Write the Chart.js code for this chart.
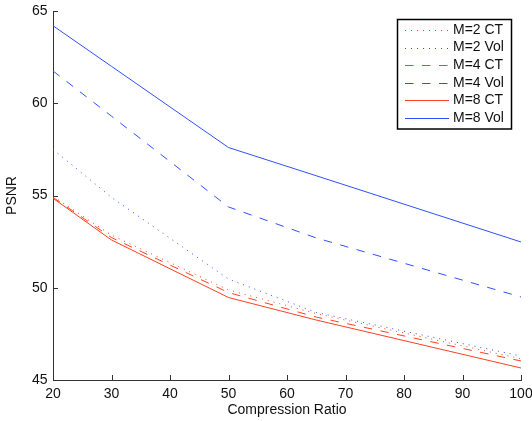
<!DOCTYPE html>
<html>
<head>
<meta charset="utf-8">
<script src="https://cdn.jsdelivr.net/npm/chart.js@4/dist/chart.umd.min.js"></script>
<style>
  html, body { margin: 0; padding: 0; background: #fff; }
  #wrap { width: 532px; height: 421px; position: relative; }
</style>
</head>
<body>
<div id="wrap"><canvas id="c" width="532" height="421"></canvas></div>
<script>
// ---- data ----
const ratios = [20, 30, 50, 65, 100];
const m2ct  = [54.95, 52.85, 49.88, 48.60, 46.15];
const m2vol = [57.50, 54.90, 50.47, 48.66, 46.30];
const m4ct  = [54.90, 52.72, 49.74, 48.41, 46.03];
const m4vol = [61.75, 59.30, 54.38, 52.70, 49.50];
const m8ct  = [54.85, 52.59, 49.47, 48.25, 45.65];
const m8vol = [64.20, 62.00, 57.60, 56.07, 52.48];
const seriesLabels = ['M=2 CT', 'M=2 Vol', 'M=4 CT', 'M=4 Vol', 'M=8 CT', 'M=8 Vol'];
const xTicks = [20, 30, 40, 50, 60, 70, 80, 90, 100];
const yTicks = [45, 50, 55, 60, 65];

const RED = 'rgb(255,64,32)';
const BLUE = 'rgb(48,80,255)';
const DOT = [1, 5];
const DASH = [8.5, 8.5];
const FONT = 'Liberation Sans, Arial, Helvetica, sans-serif';

function pts(ys) { return ratios.map((x, i) => ({ x: x, y: ys[i] })); }

const styles = [
  { c: RED, d: DOT }, { c: BLUE, d: DOT },
  { c: RED, d: DASH }, { c: BLUE, d: DASH },
  { c: RED, d: [] }, { c: BLUE, d: [] }
];
const allSeries = [m2ct, m2vol, m4ct, m4vol, m8ct, m8vol];

const datasets = allSeries.map((s, i) => ({
  label: seriesLabels[i],
  data: pts(s),
  borderColor: styles[i].c,
  borderDash: styles[i].d,
  borderWidth: 1,
  pointRadius: 0,
  tension: 0,
  fill: false
}));

const inwardTicks = {
  id: 'inwardTicks',
  afterDatasetsDraw(chart) {
    const ctx = chart.ctx;
    const xs = chart.scales.x, ys = chart.scales.y;
    const a = chart.chartArea;
    ctx.save();
    ctx.strokeStyle = '#333';
    ctx.lineWidth = 1;
    ctx.beginPath();
    xTicks.forEach(v => {
      const px = Math.round(xs.getPixelForValue(v)) + 0.5;
      ctx.moveTo(px, a.bottom); ctx.lineTo(px, a.bottom - 5);
    });
    yTicks.forEach(v => {
      const py = Math.round(ys.getPixelForValue(v)) + 0.5;
      ctx.moveTo(a.left, py); ctx.lineTo(a.left + 5, py);
    });
    ctx.stroke();
    ctx.restore();
  }
};

const boxLegend = {
  id: 'boxLegend',
  afterDraw(chart) {
    const ctx = chart.ctx;
    const bx = 397.5, by = 19.5, bw = 114, bh = 109.5;
    ctx.save();
    ctx.fillStyle = '#fff';
    ctx.fillRect(bx, by, bw, bh);
    ctx.strokeStyle = '#000';
    ctx.lineWidth = 1.5;
    ctx.strokeRect(bx, by, bw, bh);
    ctx.font = '14px ' + FONT;
    ctx.textBaseline = 'middle';
    ctx.textAlign = 'left';
    seriesLabels.forEach((lab, i) => {
      const y = 30 + i * 17.55;
      const yy = Math.round(y) + 0.5;
      ctx.strokeStyle = styles[i].c;
      ctx.lineWidth = 1;
      ctx.setLineDash(styles[i].d.slice());
      ctx.beginPath();
      ctx.moveTo(405, yy);
      ctx.lineTo(449, yy);
      ctx.stroke();
      ctx.setLineDash([]);
      ctx.fillStyle = '#111';
      ctx.fillText(lab, 453, y);
    });
    ctx.restore();
  }
};

new Chart(document.getElementById('c'), {
  type: 'line',
  data: { datasets: datasets },
  options: {
    responsive: false,
    animation: false,
    events: [],
    layout: { padding: { top: 11, right: 11, left: 0, bottom: 0 } },
    plugins: { legend: { display: false }, tooltip: { enabled: false } },
    scales: {
      x: {
        type: 'linear',
        min: 20, max: 100,
        afterBuildTicks(scale) { scale.ticks = xTicks.map(v => ({ value: v })); },
        afterFit(scale) { scale.height = 41; scale.paddingLeft = 0; scale.paddingRight = 0; },
        grid: { drawOnChartArea: false, drawTicks: false },
        border: { display: true, color: '#333', width: 1 },
        ticks: { color: '#111', font: { family: FONT, size: 14 }, padding: 6, maxRotation: 0, autoSkip: false },
        title: { display: true, text: 'Compression Ratio', color: '#111', font: { family: FONT, size: 14 }, padding: { top: 0, bottom: 2 } }
      },
      y: {
        type: 'linear',
        min: 45, max: 65,
        afterBuildTicks(scale) { scale.ticks = yTicks.map(v => ({ value: v })); },
        afterFit(scale) { scale.width = 53; scale.paddingTop = 0; scale.paddingBottom = 0; },
        grid: { drawOnChartArea: false, drawTicks: false },
        border: { display: true, color: '#333', width: 1 },
        ticks: { color: '#111', font: { family: FONT, size: 14 }, padding: 5.5 },
        title: { display: true, text: 'PSNR', color: '#111', font: { family: FONT, size: 14 }, padding: { top: 4, bottom: 0 } }
      }
    }
  },
  plugins: [inwardTicks, boxLegend]
});
</script>
</body>
</html>
